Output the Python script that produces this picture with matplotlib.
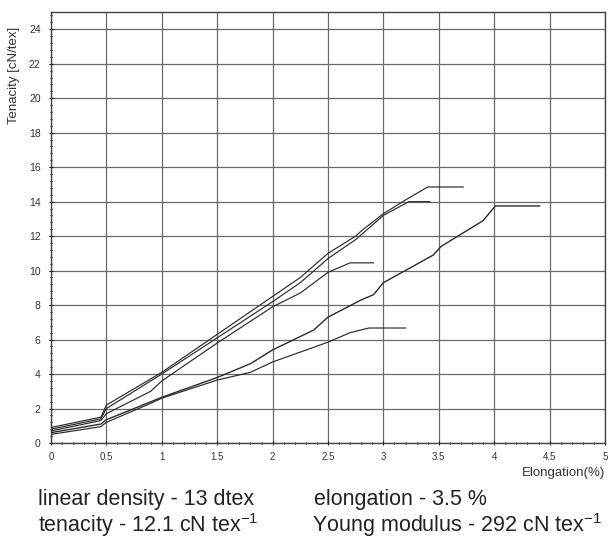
import matplotlib
matplotlib.use("Agg")
import matplotlib.pyplot as plt
from matplotlib.ticker import MultipleLocator

# Curve data (elongation %, tenacity cN/tex)
xa = [0, 0.45, 0.5, 1.0, 1.5, 2.0, 2.25, 2.5, 2.75, 2.8, 3.0, 3.2, 3.4, 3.72]
ya = [0.9, 1.5, 2.2, 4.1, 6.3, 8.5, 9.6, 11.0, 12.0, 12.3, 13.3, 14.1, 14.85, 14.85]
xb = [0, 0.45, 0.5, 1.0, 1.5, 2.0, 2.25, 2.5, 2.75, 3.0, 3.23, 3.42]
yb = [0.8, 1.4, 2.0, 4.0, 6.1, 8.2, 9.3, 10.7, 11.8, 13.2, 14.0, 14.0]
xc = [0, 0.45, 0.5, 0.9, 1.0, 1.5, 2.0, 2.25, 2.5, 2.7, 2.91]
yc = [0.7, 1.3, 1.7, 3.0, 3.6, 5.8, 7.9, 8.7, 9.9, 10.45, 10.45]
xd = [0, 0.45, 0.5, 0.75, 1.0, 1.5, 1.8, 2.0, 2.37, 2.5, 2.8, 2.91, 3.0, 3.45, 3.52, 3.9, 4.01, 4.41]
yd = [0.6, 1.1, 1.35, 2.0, 2.65, 3.8, 4.6, 5.4, 6.55, 7.3, 8.3, 8.6, 9.3, 10.9, 11.4, 12.9, 13.75, 13.75]
xe = [0, 0.45, 0.5, 0.9, 1.0, 1.5, 1.8, 2.0, 2.5, 2.7, 2.87, 3.2]
ye = [0.5, 0.95, 1.2, 2.3, 2.6, 3.65, 4.1, 4.7, 5.85, 6.4, 6.67, 6.67]

xticks = [0, 0.5, 1, 1.5, 2, 2.5, 3, 3.5, 4, 4.5, 5]
xticklabels = ["0", "0.5", "1", "1.5", "2", "2.5", "3", "3.5", "4", "4.5", "5"]
yticks = [0, 2, 4, 6, 8, 10, 12, 14, 16, 18, 20, 22, 24]

plt.rcParams['font.family'] = ['Liberation Sans', 'DejaVu Sans']
plt.rcParams['mathtext.fontset'] = 'custom'
plt.rcParams['mathtext.rm'] = 'Liberation Sans'
plt.rcParams['mathtext.it'] = 'Liberation Sans'
plt.rcParams['mathtext.default'] = 'rm'

fig = plt.figure(figsize=(6.16, 5.43), dpi=100)
ax = fig.add_axes([51/616, (543-443)/543, (605-51)/616, (443-12)/543])

for x, y, lw in [(xa, ya, 0.85), (xb, yb, 0.85), (xc, yc, 0.85), (xd, yd, 1.0), (xe, ye, 0.85)]:
    ax.plot(x, y, color="#2a2a2a", lw=lw, zorder=3)

ax.set_xlim(0, 5)
ax.set_ylim(0, 25)
ax.set_xticks(xticks)
ax.set_xticklabels(xticklabels)
ax.set_yticks(yticks)
ax.xaxis.set_minor_locator(MultipleLocator(0.1))
ax.yaxis.set_minor_locator(MultipleLocator(0.4))
ax.grid(True, which="major", color="#6a6a6a", lw=0.9)
ax.tick_params(axis="y", which="major", labelsize=7.5, labelcolor="#333333", length=3, width=0.8, direction="inout", pad=6)
ax.tick_params(axis="x", which="major", labelsize=7, labelcolor="#333333", length=3, width=0.8, direction="inout", pad=5)
ax.tick_params(which="minor", length=2, width=0.8, direction="inout")
for s in ax.spines.values():
    s.set_color("#444444")
    s.set_linewidth(1.0)

fig.text(14/616, (543-75)/543, "Tenacity [cN/tex]", rotation=90, ha="center", va="center", fontsize=9.5, color="#333333")
fig.text(605/616, (543-473)/543, "Elongation(%)", ha="right", va="center", fontsize=9.5, color="#333333")

fs = 15.5
fig.text(38/616, (543-499)/543, "linear density - 13 dtex", ha="left", va="center", fontsize=fs, color="#222222")
fig.text(314/616, (543-499)/543, "elongation - 3.5 %", ha="left", va="center", fontsize=fs, color="#222222")
fig.text(38/616, (543-525)/543, r"tenacity - 12.1 cN tex$^{-1}$", ha="left", va="center", fontsize=fs, color="#222222")
fig.text(312/616, (543-525)/543, r"Young modulus - 292 cN tex$^{-1}$", ha="left", va="center", fontsize=fs, color="#222222")

fig.savefig("out.png", dpi=100)
